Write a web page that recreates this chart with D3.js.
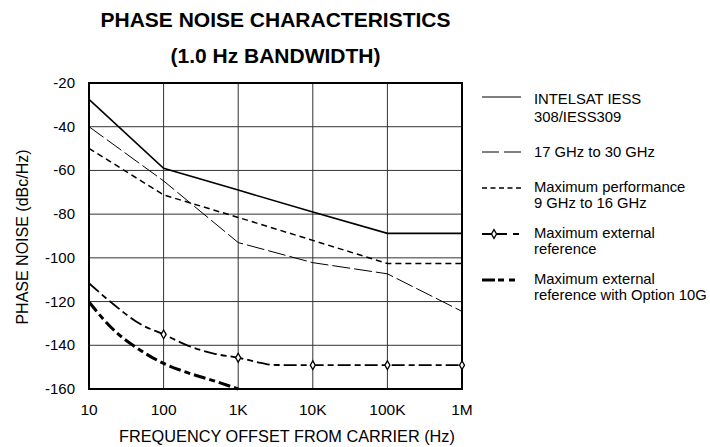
<!DOCTYPE html>
<html>
<head>
<meta charset="utf-8">
<script src="https://cdn.jsdelivr.net/npm/d3@7"></script>
<style>
  body { margin: 0; background: #fff; }
  svg { font-family: "Liberation Sans", Arial, sans-serif; }
</style>
</head>
<body>
<svg width="710" height="447"></svg>
<script>
// Data (frequency in Hz, phase noise in dBc/Hz)
var xTicks = [10, 100, 1000, 10000, 100000, 1000000];
var xTickLabels = ["10", "100", "1K", "10K", "100K", "1M"];
var yTicks = [-20, -40, -60, -80, -100, -120, -140, -160];

var intelsat = [[10, -27.5], [100, -59], [1000, -69], [10000, -79], [100000, -88.8], [1000000, -88.8]];
var ghz17to30 = [[10, -40], [100, -64.8], [1000, -93], [10000, -102.2], [100000, -107.3], [1000000, -124.5]];
var maxPerf = [[10, -49.9], [100, -71.2], [1000, -81.5], [10000, -92], [100000, -102.6], [1000000, -102.6]];
var extRef = [[10, -111.6], [20, -120.5], [50, -130.5], [100, -135], [200, -139.8], [500, -144], [1000, -145.7],
              [2000, -148], [3000, -149], [10000, -149.1], [100000, -149.1], [1000000, -149.1]];
var extRefMarks = [[100, -135], [1000, -145.7], [10000, -149.1], [100000, -149.1], [1000000, -149.1]];
var opt10G = [[10, -120.2], [20, -132], [50, -142.5], [100, -148.3], [200, -152.3], [500, -156.5], [1000, -160]];

var legendLabels = [
  ["INTELSAT IESS", "308/IESS309"],
  ["17 GHz to 30 GHz"],
  ["Maximum performance", "9 GHz to 16 GHz"],
  ["Maximum external", "reference"],
  ["Maximum external", "reference with Option 10G"]
];

var svg = d3.select("svg");
var margin = {left: 89, top: 83, right: 462, bottom: 389};

var x = d3.scaleLog().domain([10, 1000000]).range([margin.left, margin.right]);
var y = d3.scaleLinear().domain([-160, -20]).range([margin.bottom, margin.top]);

// Title
svg.append("text").attr("x", 275.5).attr("y", 27).attr("text-anchor", "middle")
  .style("font-weight", "bold").style("font-size", "21px")
  .text("PHASE NOISE CHARACTERISTICS");
svg.append("text").attr("x", 275.5).attr("y", 63).attr("text-anchor", "middle")
  .style("font-weight", "bold").style("font-size", "21px")
  .text("(1.0 Hz BANDWIDTH)");

// Grid
var grid = svg.append("g").attr("stroke", "#333").attr("stroke-width", 1);
grid.selectAll(".vx").data(xTicks).enter().append("line")
  .attr("x1", d => x(d)).attr("x2", d => x(d))
  .attr("y1", margin.top).attr("y2", margin.bottom);
grid.selectAll(".hy").data(yTicks).enter().append("line")
  .attr("x1", margin.left).attr("x2", margin.right)
  .attr("y1", d => y(d)).attr("y2", d => y(d));

// Frame
svg.append("rect").attr("x", margin.left).attr("y", margin.top)
  .attr("width", margin.right - margin.left).attr("height", margin.bottom - margin.top)
  .attr("fill", "none").attr("stroke", "#000").attr("stroke-width", 2);

// Tick labels
svg.append("g").selectAll("text").data(yTicks).enter().append("text")
  .attr("x", 75).attr("y", d => y(d) + 5).attr("text-anchor", "end")
  .style("font-size", "15px").text(d => d);
svg.append("g").selectAll("text").data(xTicks).enter().append("text")
  .attr("x", d => x(d)).attr("y", 415).attr("text-anchor", "middle")
  .style("font-size", "15.5px").text((d, i) => xTickLabels[i]);

// Axis titles
svg.append("text").attr("x", 287).attr("y", 442).attr("text-anchor", "middle")
  .style("font-size", "16.3px").text("FREQUENCY OFFSET FROM CARRIER (Hz)");
svg.append("text").attr("transform", "translate(28,237) rotate(-90)").attr("text-anchor", "middle")
  .style("font-size", "16px").text("PHASE NOISE (dBc/Hz)");

// Lines
var line = d3.line().x(d => x(d[0])).y(d => y(d[1]));
var smooth = d3.line().x(d => x(d[0])).y(d => y(d[1])).curve(d3.curveMonotoneX);

var series = [
  {data: intelsat, path: line, width: 1.6, dash: null},
  {data: ghz17to30, path: line, width: 1, dash: "18,4"},
  {data: maxPerf, path: line, width: 1.5, dash: "6,4"},
  {data: extRef, path: smooth, width: 1.8, dash: "13,4,6,4"},
  {data: opt10G, path: smooth, width: 3, dash: "12,4,6,4"}
];

var plot = svg.append("g");
plot.selectAll("path").data(series).enter().append("path")
  .attr("d", d => d.path(d.data))
  .attr("fill", "none").attr("stroke", "#000")
  .attr("stroke-width", d => d.width)
  .attr("stroke-dasharray", d => d.dash);

// Diamond markers on external reference curve
var diamond = d3.symbol().type(d3.symbolDiamond).size(22);
plot.selectAll(".mark").data(extRefMarks).enter().append("path")
  .attr("d", diamond)
  .attr("transform", d => "translate(" + x(d[0]) + "," + y(d[1]) + ")")
  .attr("fill", "#fff").attr("stroke", "#000").attr("stroke-width", 1.3);

// Legend
var legendY = [97, 152, 188, 234, 280];
var textY = [104, 157, 192, 238, 284];
var legend = svg.append("g");
var lx0 = 482, lx1 = 521, tx = 534;

// 1: solid
legend.append("line").attr("x1", lx0).attr("x2", lx1).attr("y1", legendY[0]).attr("y2", legendY[0])
  .attr("stroke", "#000").attr("stroke-width", 1.2);
// 2: long dash
legend.append("line").attr("x1", lx0).attr("x2", lx1).attr("y1", legendY[1]).attr("y2", legendY[1])
  .attr("stroke", "#000").attr("stroke-width", 1).attr("stroke-dasharray", "17,5");
// 3: short dash
legend.append("line").attr("x1", lx0).attr("x2", lx1).attr("y1", legendY[2]).attr("y2", legendY[2])
  .attr("stroke", "#000").attr("stroke-width", 1.3).attr("stroke-dasharray", "5,3.5");
// 4: line with diamond and short dash
legend.append("line").attr("x1", lx0).attr("x2", 507).attr("y1", legendY[3]).attr("y2", legendY[3])
  .attr("stroke", "#000").attr("stroke-width", 2);
legend.append("line").attr("x1", 513).attr("x2", 519).attr("y1", legendY[3]).attr("y2", legendY[3])
  .attr("stroke", "#000").attr("stroke-width", 2);
legend.append("path").attr("d", diamond).attr("transform", "translate(494," + legendY[3] + ")")
  .attr("fill", "#fff").attr("stroke", "#000").attr("stroke-width", 1.3);
// 5: thick long-short dash
legend.append("line").attr("x1", lx0).attr("x2", lx1).attr("y1", legendY[4]).attr("y2", legendY[4])
  .attr("stroke", "#000").attr("stroke-width", 3).attr("stroke-dasharray", "13,3,6,5,6,20");

legendLabels.forEach(function(lines, i) {
  var t = legend.append("text").attr("x", tx).attr("y", textY[i]).style("font-size", "14.8px");
  lines.forEach(function(s, j) {
    t.append("tspan").attr("x", tx).attr("dy", j === 0 ? 0 : (i === 0 ? 18 : 16)).text(s);
  });
});
</script>
</body>
</html>
